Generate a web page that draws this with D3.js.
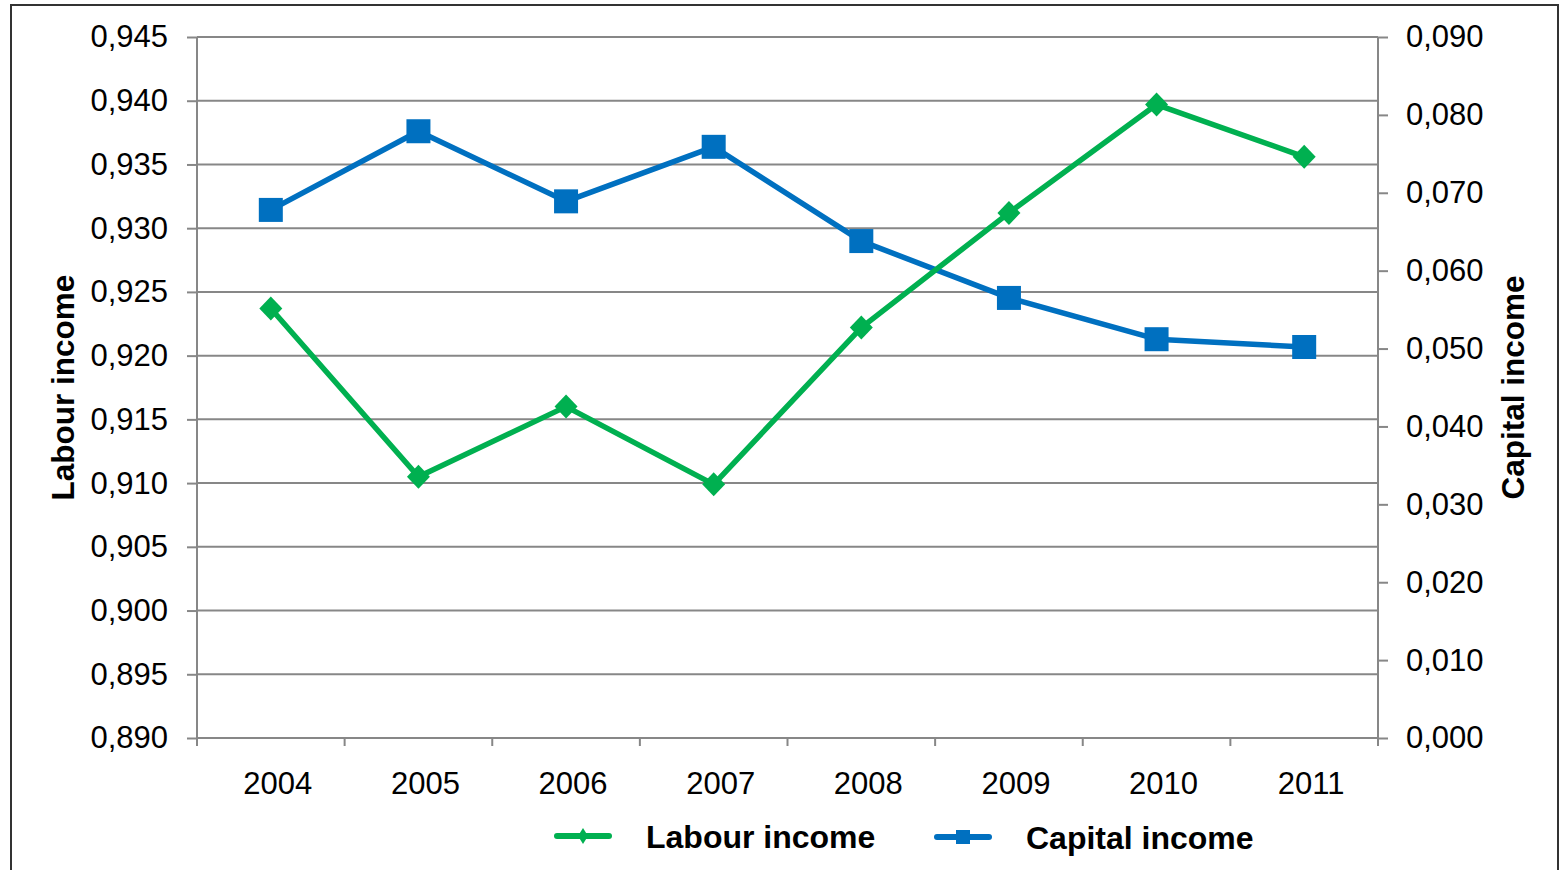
<!DOCTYPE html>
<html>
<head>
<meta charset="utf-8">
<script src="https://cdn.jsdelivr.net/npm/d3@7"></script>
<style>
  html, body { margin: 0; padding: 0; background: #fff; }
  svg { display: block; font-family: "Liberation Sans", Arial, sans-serif; }
</style>
</head>
<body>
<svg id="chart" width="1565" height="870"></svg>
<script>
// Years on the category axis
const years = ["2004", "2005", "2006", "2007", "2008", "2009", "2010", "2011"];
// Labour income share (left axis)
const labourIncome = [0.9237, 0.9105, 0.9160, 0.9099, 0.9222, 0.9312, 0.9397, 0.9356];
// Capital income share (right axis)
const capitalIncome = [0.0678, 0.0779, 0.0689, 0.0759, 0.0638, 0.0565, 0.0512, 0.0502];
// Axis tick values
const leftTicks = [0.890, 0.895, 0.900, 0.905, 0.910, 0.915, 0.920, 0.925, 0.930, 0.935, 0.940, 0.945];
const rightTicks = [0.000, 0.010, 0.020, 0.030, 0.040, 0.050, 0.060, 0.070, 0.080, 0.090];

const svg = d3.select("#chart");
const plot = { left: 197, right: 1378, top: 37, bottom: 738 };
const gridColor = "#878787";
const green = "#00b050", blue = "#0070c0";

// Outer frame
svg.append("rect")
  .attr("x", 11).attr("y", 5).attr("width", 1547).attr("height", 880)
  .attr("fill", "none").attr("stroke", "#333").attr("stroke-width", 2);

const x = d3.scaleBand().domain(years).range([plot.left, plot.right]);
const yL = d3.scaleLinear().domain([0.890, 0.945]).range([plot.bottom, plot.top]);
const yR = d3.scaleLinear().domain([0.000, 0.090]).range([plot.bottom, plot.top]);
const fmt = d => d3.format(".3f")(d).replace(".", ",");

// Horizontal gridlines (left-axis ticks)
svg.append("g").selectAll("line").data(leftTicks.slice(1)).join("line")
  .attr("x1", plot.left).attr("x2", plot.right)
  .attr("y1", d => yL(d)).attr("y2", d => yL(d))
  .attr("stroke", gridColor).attr("stroke-width", 2);

// Left axis
const gL = svg.append("g").attr("transform", `translate(${plot.left},0)`)
  .call(d3.axisLeft(yL).tickValues(leftTicks).tickFormat(fmt).tickSize(10).tickPadding(19));
// Right axis
const gR = svg.append("g").attr("transform", `translate(${plot.right},0)`)
  .call(d3.axisRight(yR).tickValues(rightTicks).tickFormat(fmt).tickSize(10).tickPadding(18));
// Bottom axis with ticks between categories
const gB = svg.append("g").attr("transform", `translate(0,${plot.bottom})`)
  .call(d3.axisBottom(x).tickSize(0).tickPadding(34));
gB.append("g").selectAll("line").data(d3.range(years.length + 1)).join("line")
  .attr("x1", i => plot.left + i * x.step()).attr("x2", i => plot.left + i * x.step())
  .attr("y1", 0).attr("y2", 8)
  .attr("stroke", gridColor).attr("stroke-width", 2);

[gL, gR, gB].forEach(g => {
  g.select(".domain").attr("stroke", gridColor).attr("stroke-width", 2);
  g.selectAll(".tick line").attr("stroke", gridColor).attr("stroke-width", 2);
  g.selectAll("text").attr("font-size", 31).attr("fill", "#000")
    .attr("font-family", "'Liberation Sans', Arial, sans-serif");
});
gB.selectAll(".tick text").attr("dx", 7);
// Axis domain lines without outer end ticks
gB.select(".domain").attr("d", `M${plot.left},0H${plot.right}`);
gL.select(".domain").attr("d", `M0,${plot.top}V${plot.bottom}`);
gR.select(".domain").attr("d", `M0,${plot.top}V${plot.bottom}`);

// Axis titles
svg.append("text")
  .attr("transform", `translate(74,${(plot.top + plot.bottom) / 2}) rotate(-90)`)
  .attr("text-anchor", "middle").attr("font-size", 31.5).attr("font-weight", "bold")
  .text("Labour income");
svg.append("text")
  .attr("transform", `translate(1524,${(plot.top + plot.bottom) / 2}) rotate(-90)`)
  .attr("text-anchor", "middle").attr("font-size", 31.5).attr("font-weight", "bold")
  .text("Capital income");

const cx = d => x(d) + x.bandwidth() / 2;

// Capital income line with square markers
const lineR = d3.line().x((d, i) => cx(years[i])).y(d => yR(d));
svg.append("path").datum(capitalIncome)
  .attr("d", lineR).attr("fill", "none").attr("stroke", blue)
  .attr("stroke-width", 5.5).attr("stroke-linejoin", "round");
svg.append("g").selectAll("rect").data(capitalIncome).join("rect")
  .attr("x", (d, i) => cx(years[i]) - 12).attr("y", d => yR(d) - 12)
  .attr("width", 24).attr("height", 24).attr("fill", blue);

// Labour income line with diamond markers
const lineL = d3.line().x((d, i) => cx(years[i])).y(d => yL(d));
svg.append("path").datum(labourIncome)
  .attr("d", lineL).attr("fill", "none").attr("stroke", green)
  .attr("stroke-width", 5.5).attr("stroke-linejoin", "round");
svg.append("g").selectAll("path").data(labourIncome).join("path")
  .attr("transform", (d, i) => `translate(${cx(years[i])},${yL(d)})`)
  .attr("d", "M0,-12L11.5,0L0,12L-11.5,0Z").attr("fill", green);

// Legend
const legend = svg.append("g");
const items = [
  { label: "Labour income", color: green, x: 554, y: 836, marker: "diamond" },
  { label: "Capital income", color: blue, x: 934, y: 837, marker: "square" }
];
items.forEach(it => {
  legend.append("line")
    .attr("x1", it.x + 3).attr("x2", it.x + 55).attr("y1", it.y).attr("y2", it.y)
    .attr("stroke", it.color).attr("stroke-width", 6).attr("stroke-linecap", "round");
  if (it.marker === "diamond") {
    legend.append("path").attr("transform", `translate(${it.x + 29},${it.y})`)
      .attr("d", "M0,-8L5,0L0,8L-5,0Z").attr("fill", it.color);
  } else {
    legend.append("rect").attr("x", it.x + 22).attr("y", it.y - 7)
      .attr("width", 14).attr("height", 14).attr("fill", it.color);
  }
  legend.append("text")
    .attr("x", it.x + 92).attr("y", it.y + 12)
    .attr("font-size", 32).attr("font-weight", "bold").attr("fill", "#000")
    .text(it.label);
});
</script>
</body>
</html>
